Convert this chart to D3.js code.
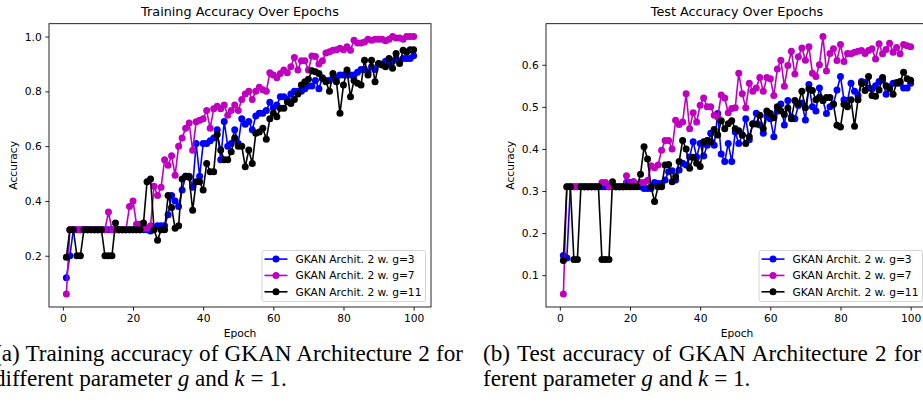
<!DOCTYPE html>
<html>
<head>
<meta charset="utf-8">
<script src="https://cdn.jsdelivr.net/npm/d3@7"></script>
<style>
  html, body { margin: 0; padding: 0; background: #fff; overflow: hidden; }
  svg { display: block; }
</style>
</head>
<body>
<script>
// ---------------- data ----------------
const epochs = d3.range(1, 101);
const xTicks = [0, 20, 40, 60, 80, 100];
const trainYTicks = [0.2, 0.4, 0.6, 0.8, 1.0];
const testYTicks = [0.1, 0.2, 0.3, 0.4, 0.5, 0.6];
const seriesNames = ["GKAN Archit. 2 w. g=3", "GKAN Archit. 2 w. g=7", "GKAN Archit. 2 w. g=11"];
const seriesColors = ["#0000ff", "#bf00bf", "#000000"];

const trainG3 = [
  0.12,0.20,0.295,0.295,0.295,0.295,0.295,0.295,0.295,0.295,
  0.295,0.295,0.295,0.295,0.295,0.295,0.295,0.295,0.295,0.295,
  0.295,0.295,0.295,0.295,0.29,0.30,0.31,0.31,0.31,0.35,
  0.42,0.40,0.38,0.44,0.49,0.49,0.45,0.61,0.49,0.61,
  0.61,0.62,0.63,0.66,0.55,0.69,0.60,0.61,0.66,0.61,
  0.70,0.68,0.69,0.66,0.71,0.72,0.72,0.73,0.76,0.74,
  0.75,0.78,0.78,0.77,0.79,0.80,0.80,0.80,0.81,0.82,
  0.82,0.84,0.81,0.85,0.84,0.84,0.85,0.85,0.86,0.86,
  0.86,0.86,0.86,0.87,0.88,0.88,0.87,0.89,0.88,0.90,
  0.90,0.91,0.90,0.91,0.92,0.91,0.92,0.92,0.92,0.93
];
const trainG7 = [
  0.06,0.295,0.295,0.295,0.295,0.295,0.295,0.295,0.295,0.295,
  0.295,0.295,0.36,0.295,0.295,0.295,0.295,0.295,0.38,0.40,
  0.315,0.315,0.30,0.30,0.31,0.454,0.42,0.45,0.55,0.53,
  0.565,0.494,0.60,0.63,0.665,0.685,0.585,0.689,0.695,0.70,
  0.73,0.665,0.737,0.746,0.737,0.75,0.713,0.73,0.75,0.73,
  0.77,0.79,0.80,0.77,0.80,0.815,0.806,0.80,0.868,0.86,
  0.85,0.865,0.878,0.868,0.89,0.924,0.878,0.912,0.912,0.878,
  0.929,0.927,0.90,0.912,0.94,0.945,0.95,0.952,0.957,0.952,
  0.963,0.95,0.987,0.977,0.977,0.98,0.99,0.987,0.99,0.99,
  0.99,0.985,0.99,1.0,0.995,0.995,0.99,1.0,1.0,1.0
];
const trainG11 = [
  0.195,0.295,0.295,0.20,0.20,0.295,0.295,0.295,0.295,0.295,
  0.295,0.20,0.20,0.20,0.32,0.295,0.295,0.295,0.295,0.295,
  0.295,0.295,0.32,0.47,0.48,0.295,0.257,0.295,0.295,0.42,
  0.376,0.30,0.31,0.48,0.49,0.487,0.366,0.47,0.47,0.44,
  0.537,0.507,0.507,0.643,0.586,0.55,0.55,0.58,0.63,0.60,
  0.60,0.525,0.586,0.537,0.647,0.652,0.665,0.625,0.70,0.72,
  0.707,0.738,0.738,0.762,0.756,0.77,0.79,0.823,0.835,0.844,
  0.875,0.872,0.865,0.847,0.835,0.80,0.865,0.835,0.72,0.823,
  0.878,0.78,0.84,0.83,0.823,0.914,0.86,0.914,0.835,0.902,
  0.896,0.89,0.92,0.884,0.938,0.902,0.95,0.944,0.952,0.952
];
const testG3 = [
  0.147,0.141,0.31,0.31,0.31,0.31,0.31,0.31,0.31,0.31,
  0.31,0.31,0.31,0.31,0.31,0.31,0.31,0.31,0.32,0.32,
  0.322,0.315,0.31,0.306,0.306,0.306,0.32,0.318,0.318,0.326,
  0.346,0.348,0.326,0.35,0.366,0.362,0.381,0.417,0.381,0.413,
  0.383,0.409,0.437,0.409,0.484,0.388,0.37,0.413,0.37,0.44,
  0.413,0.433,0.472,0.422,0.46,0.485,0.457,0.437,0.478,0.472,
  0.429,0.49,0.507,0.457,0.515,0.476,0.472,0.503,0.509,0.469,
  0.553,0.50,0.49,0.545,0.515,0.484,0.50,0.507,0.54,0.572,
  0.517,0.515,0.556,0.537,0.527,0.56,0.558,0.545,0.543,0.55,
  0.56,0.564,0.53,0.547,0.556,0.558,0.556,0.545,0.545,0.556
];
const testG7 = [
  0.055,0.31,0.31,0.31,0.31,0.31,0.31,0.31,0.31,0.31,
  0.31,0.32,0.32,0.31,0.31,0.31,0.31,0.31,0.336,0.31,
  0.322,0.315,0.32,0.32,0.325,0.36,0.355,0.362,0.397,0.42,
  0.42,0.40,0.468,0.458,0.464,0.531,0.448,0.486,0.464,0.504,
  0.521,0.50,0.50,0.48,0.476,0.528,0.521,0.486,0.496,0.498,
  0.58,0.531,0.498,0.556,0.537,0.545,0.57,0.537,0.57,0.567,
  0.527,0.59,0.611,0.549,0.598,0.632,0.578,0.619,0.64,0.611,
  0.643,0.58,0.572,0.60,0.667,0.585,0.627,0.638,0.61,0.648,
  0.608,0.627,0.626,0.63,0.632,0.634,0.627,0.634,0.638,0.614,
  0.65,0.626,0.636,0.651,0.63,0.641,0.626,0.648,0.645,0.643
];
const testG11 = [
  0.135,0.31,0.31,0.137,0.137,0.31,0.31,0.31,0.31,0.31,
  0.31,0.137,0.137,0.137,0.322,0.31,0.31,0.31,0.31,0.31,
  0.31,0.31,0.34,0.405,0.376,0.31,0.275,0.31,0.31,0.362,
  0.363,0.322,0.334,0.37,0.42,0.40,0.354,0.38,0.366,0.358,
  0.417,0.42,0.417,0.446,0.433,0.467,0.448,0.46,0.467,0.448,
  0.443,0.433,0.413,0.429,0.459,0.459,0.48,0.448,0.49,0.484,
  0.474,0.50,0.49,0.482,0.497,0.472,0.515,0.508,0.537,0.498,
  0.543,0.539,0.517,0.523,0.515,0.522,0.522,0.506,0.456,0.452,
  0.506,0.50,0.517,0.454,0.517,0.556,0.539,0.572,0.527,0.525,
  0.54,0.57,0.55,0.543,0.53,0.556,0.56,0.582,0.567,0.563
];

// ---------------- layout ----------------
const W = 923, H = 417;
const FONT = "'DejaVu Sans', sans-serif";
const svg = d3.select("body").append("svg").attr("width", W).attr("height", H);

function panel(opts) {
  const { left, right, top, bottom, title, series, yTicks } = opts;
  const g = svg.append("g");
  const x = d3.scaleLinear().domain([1 - 0.05 * 99, 100 + 0.05 * 99]).range([left, right]);
  const all = series.flat();
  const mn = d3.min(all), mx = d3.max(all), pad = (mx - mn) * 0.05;
  const y = d3.scaleLinear().domain([mn - pad, mx + pad]).range([bottom, top]);

  series.forEach((vals, i) => {
    const pts = epochs.map((e, k) => [e, vals[k]]);
    g.append("path").datum(pts)
      .attr("fill", "none").attr("stroke", seriesColors[i]).attr("stroke-width", 1.6)
      .attr("stroke-linejoin", "round")
      .attr("d", d3.line().x(d => x(d[0])).y(d => y(d[1])));
    g.append("g").selectAll("circle").data(pts).join("circle")
      .attr("cx", d => x(d[0])).attr("cy", d => y(d[1])).attr("r", 3.5)
      .attr("fill", seriesColors[i]);
  });

  const xa = g.append("g").attr("transform", `translate(0,${bottom})`)
    .call(d3.axisBottom(x).tickValues(xTicks).tickFormat(d3.format("d")).tickSize(3.7).tickPadding(3.5));
  const ya = g.append("g").attr("transform", `translate(${left},0)`)
    .call(d3.axisLeft(y).tickValues(yTicks).tickFormat(d3.format(".1f")).tickSize(3.7).tickPadding(3.5));
  [xa, ya].forEach(a => {
    a.select(".domain").remove();
    a.selectAll("line").attr("stroke", "#000").attr("stroke-width", 0.85);
    a.selectAll("text").attr("font-family", FONT).attr("font-size", 10.7).attr("fill", "#000");
  });
  g.append("rect").attr("x", left).attr("y", top).attr("width", right - left).attr("height", bottom - top)
    .attr("fill", "none").attr("stroke", "#000").attr("stroke-width", 0.85);

  g.append("text").attr("x", (left + right) / 2).attr("y", 15.5).attr("text-anchor", "middle")
    .attr("font-family", FONT).attr("font-size", 12.8).attr("fill", "#000").text(title);
  g.append("text").attr("x", (left + right) / 2).attr("y", 337).attr("text-anchor", "middle")
    .attr("font-family", FONT).attr("font-size", 10.7).attr("fill", "#000").text("Epoch");
  g.append("text").attr("transform", `translate(${opts.ylabelX},${(top + bottom) / 2}) rotate(-90)`)
    .attr("text-anchor", "middle").attr("font-family", FONT).attr("font-size", 10.7).attr("fill", "#000")
    .text("Accuracy");

  const lw = 163.5, lh = 51;
  const lx = right - 5.5 - lw, ly = bottom - 5.5 - lh;
  const lg = g.append("g");
  lg.append("rect").attr("x", lx).attr("y", ly).attr("width", lw).attr("height", lh).attr("rx", 2)
    .attr("fill", "#fff").attr("fill-opacity", 0.8).attr("stroke", "#cccccc").attr("stroke-width", 0.85);
  seriesNames.forEach((name, i) => {
    const cy = ly + 8.6 + i * 16.35;
    lg.append("line").attr("x1", lx + 2.5).attr("x2", lx + 25.5).attr("y1", cy).attr("y2", cy)
      .attr("stroke", seriesColors[i]).attr("stroke-width", 1.6);
    lg.append("circle").attr("cx", lx + 14).attr("cy", cy).attr("r", 3.5).attr("fill", seriesColors[i]);
    lg.append("text").attr("x", lx + 33.5).attr("y", cy).attr("dy", "0.36em")
      .attr("font-family", FONT).attr("font-size", 10.7).attr("fill", "#000").text(name);
  });
}

panel({ left: 49, right: 431, top: 23.7, bottom: 307, title: "Training Accuracy Over Epochs",
  series: [trainG3, trainG7, trainG11], yTicks: trainYTicks, ylabelX: 16.5 });
panel({ left: 546, right: 928, top: 23.7, bottom: 307, title: "Test Accuracy Over Epochs",
  series: [testG3, testG7, testG11], yTicks: testYTicks, ylabelX: 513.5 });

// ---------------- captions ----------------
const SERIF = "'Liberation Serif', 'Times New Roman', serif";
const capSize = 23.2, base1 = 361, lineH = 24.5;
function caption(x0, line1, line1End, line2parts) {
  const t1 = svg.append("text").attr("x", x0).attr("y", base1).attr("font-family", SERIF)
    .attr("font-size", capSize).attr("fill", "#000").text(line1);
  // justify line 1 to its right edge, as the typeset caption does
  const w = t1.node().getComputedTextLength();
  const spaces = line1.split(" ").length - 1;
  t1.attr("word-spacing", Math.max(0, (line1End - x0 - w) / spaces));
  const t = svg.append("text").attr("x", x0).attr("y", base1 + lineH).attr("font-family", SERIF)
    .attr("font-size", capSize).attr("fill", "#000");
  line2parts.forEach(p => {
    t.append("tspan").attr("font-style", p.it ? "italic" : "normal").text(p.t);
  });
}
const tail = [{ t: "parameter " }, { t: "g", it: true }, { t: " and " }, { t: "k", it: true }, { t: " = 1." }];
caption(-6, "(a) Training accuracy of GKAN Architecture 2 for", 463, [{ t: "different " }].concat(tail));
caption(483, "(b) Test accuracy of GKAN Architecture 2 for", 921, [{ t: "ferent " }].concat(tail));
</script>
</body>
</html>
